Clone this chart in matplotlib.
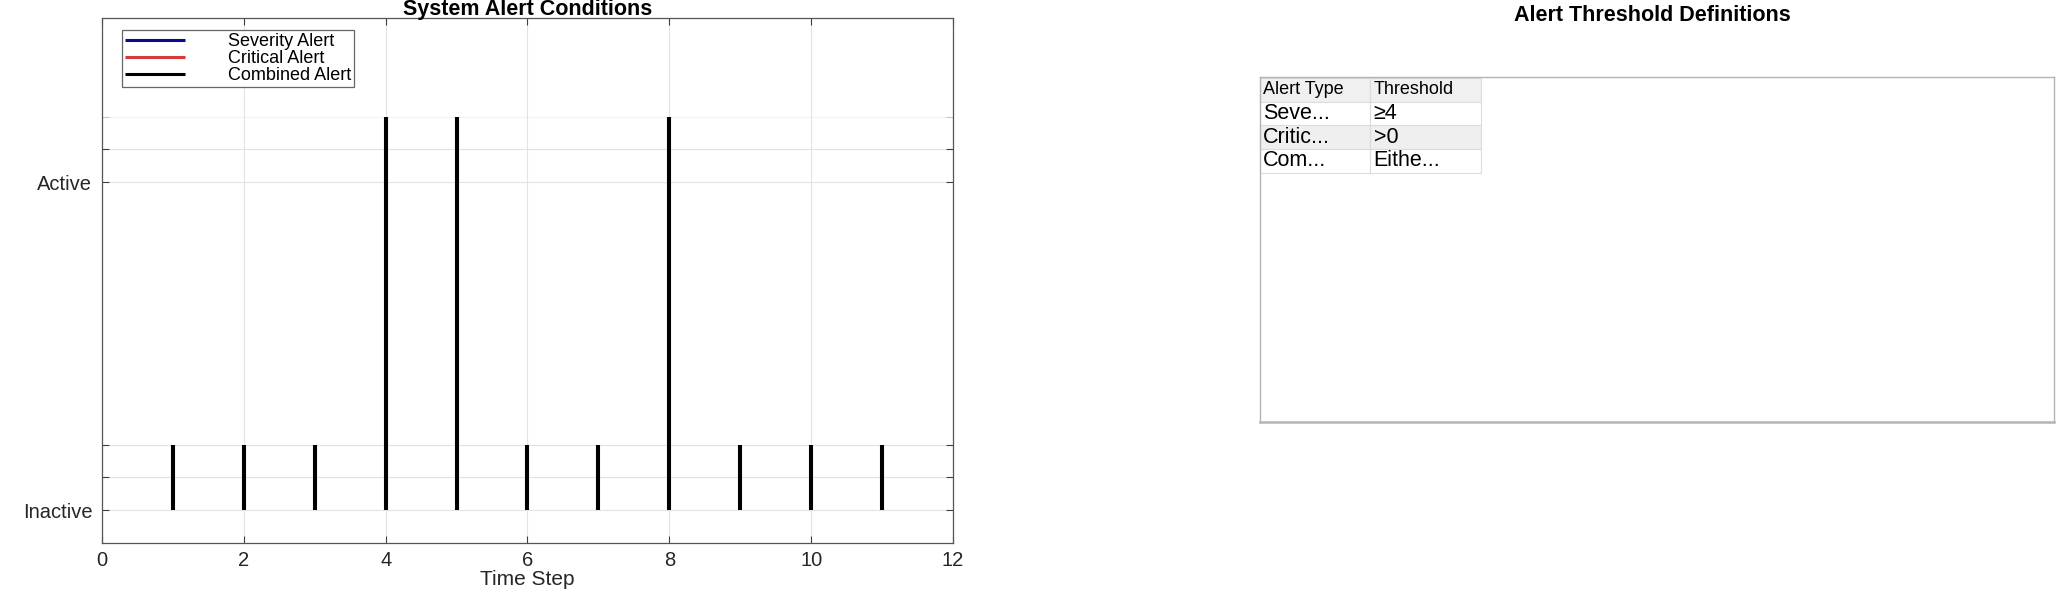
import matplotlib
matplotlib.use('Agg')
import matplotlib.pyplot as plt

plt.rcParams['font.family'] = ['Liberation Sans', 'DejaVu Sans']

# alert data
time_steps = [1, 2, 3, 4, 5, 6, 7, 8, 9, 10, 11]
severity_top = [0.2, 0.2, 0.2, 1.2, 1.2, 0.2, 0.2, 1.2, 0.2, 0.2, 0.2]
critical_top = [0.2, 0.2, 0.2, 1.2, 1.2, 0.2, 0.2, 1.2, 0.2, 0.2, 0.2]
combined_top = [0.2, 0.2, 0.2, 1.2, 1.2, 0.2, 0.2, 1.2, 0.2, 0.2, 0.2]
series_names = ['Severity Alert', 'Critical Alert', 'Combined Alert']
series_colors = ['#0a0a8c', '#d23c3c', '#000000']

ytick_vals = [0, 0.1, 0.2, 1, 1.1, 1.2]
ytick_labels = ['Inactive', '', '', 'Active', '', '']
xtick_vals = [0, 2, 4, 6, 8, 10, 12]

# threshold table
table_cols = ['Alert Type', 'Threshold']
table_rows = [['Seve...', '\u22654'],
              ['Critic...', '>0'],
              ['Com...', 'Eithe...']]

fig = plt.figure(figsize=(20.56, 5.91), dpi=100)

ax = fig.add_axes([0.0496, 0.0812, 0.4139, 0.888])
tops = [severity_top, critical_top, combined_top]
for top, name, col in zip(tops, series_names, series_colors):
    ax.vlines(time_steps, 0, top, colors=col, linewidth=2.9, label=name)

ax.set_xlim(0, 12)
ax.set_ylim(-0.1, 1.5)
ax.set_xticks(xtick_vals)
ax.set_yticks(ytick_vals)
ax.set_yticklabels(ytick_labels)
ax.tick_params(direction='in', top=True, right=True, length=5, width=0.8,
               color='#404040', labelsize=14.5, labelcolor='#262626')
ax.tick_params(axis='x', pad=6)
ax.tick_params(axis='y', pad=7)
ax.grid(True, color='#e3e3e3', linewidth=0.8)
ax.set_axisbelow(True)
# the top tick is barely visible in the original
top_tick = ax.yaxis.get_major_ticks()[5]
top_tick.tick1line.set_alpha(0.25)
top_tick.tick2line.set_alpha(0.25)
top_tick.gridline.set_alpha(0.4)
for sp in ax.spines.values():
    sp.set_color('#555555')
    sp.set_linewidth(0.9)
ax.set_xlabel('Time Step', fontsize=15, color='#262626', labelpad=0)
ax.set_title('System Alert Conditions', fontsize=15.5, fontweight='bold', pad=2)

leg = ax.legend(loc='upper left', bbox_to_anchor=(0.024, 0.977), fontsize=13,
                frameon=True, fancybox=False, edgecolor='#404040',
                handlelength=3.3, handletextpad=2.4, borderpad=0.15,
                labelspacing=0.0, borderaxespad=0.0)
leg.get_frame().set_linewidth(0.9)
for h in leg.legend_handles:
    h.set_linewidth(2.2)

# right panel: table in a box
ax2 = fig.add_axes([0.6128, 0.286, 0.3862, 0.584])
ax2.set_xticks([])
ax2.set_yticks([])
for sp in ax2.spines.values():
    sp.set_color('#b4b4b4')
    sp.set_linewidth(1.0)
ax2.spines['bottom'].set_linewidth(1.8)
fig.text(0.8035, 0.992, 'Alert Threshold Definitions', ha='center', va='top',
         fontsize=15.5, fontweight='bold')

tbl = ax2.table(cellText=table_rows, colLabels=table_cols, cellLoc='left',
                colLoc='left', bbox=[0.0, 0.722, 0.278, 0.275])
tbl.auto_set_font_size(False)
for (r, c), cell in tbl.get_celld().items():
    cell.set_edgecolor('#dcdcdc')
    cell.set_linewidth(0.8)
    cell.PAD = 0.03
    if r == 0:
        cell.set_facecolor('#f0f0f0')
        cell.get_text().set_fontsize(13)
    else:
        cell.get_text().set_fontsize(15.5)
        cell.set_facecolor('#efefef' if r == 2 else 'white')

fig.savefig('out.png', dpi=100)
